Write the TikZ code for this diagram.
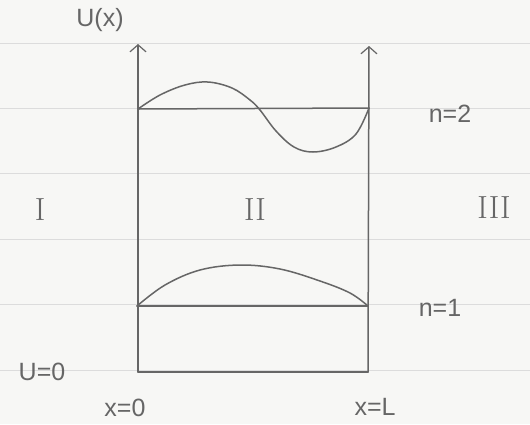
\documentclass[tikz,border=0pt]{standalone}
\usepackage{fontspec}
\setsansfont{Liberation Sans}
\usepackage{xcolor}
\definecolor{Pencil}{HTML}{666666}
\definecolor{PaperLine}{HTML}{DCDCDC}
\definecolor{Paper}{HTML}{F7F7F5}
\usetikzlibrary{arrows.meta, positioning, calc}

\tikzset{
    pencil/.style={draw=Pencil, line width=1.5pt, line cap=round, line join=round},
    axisline/.style={pencil, -{Straight Barb[length=7pt, width=16pt, line width=1.2pt]}},
    hand/.style={text=Pencil, font=\sffamily\fontsize{25}{28}\selectfont, inner sep=1pt},
    region/.style={text=Pencil, font=\rmfamily\fontsize{32}{34}\selectfont, inner sep=1pt}
}

\begin{document}
\begin{tikzpicture}[x=1pt, y=-1pt]
    % Page
    \useasboundingbox (0,0) rectangle (530,424);
    \fill[Paper] (0,0) rectangle (530,424);
    \foreach \ry in {43,108,173,239,304,370}
        \draw[PaperLine, line width=0.8pt] (0,\ry) -- (530,\ry);

    % Box corners
    \coordinate (bl) at (138,372);
    \coordinate (br) at (368,372);
    \coordinate (tl) at (138,44);
    \coordinate (tr) at (369,46);
    \coordinate (lvl2l) at (138,109);
    \coordinate (lvl2r) at (369,108);
    \coordinate (lvl1l) at (137,306);
    \coordinate (lvl1r) at (368,306);

    % Walls and floor
    \draw[axisline] (bl) -- (tl);
    \draw[axisline] (br) -- (tr);
    \draw[pencil] (bl) -- (br);

    % Energy levels
    \draw[pencil] (lvl2l) -- (lvl2r);
    \draw[pencil] (lvl1l) -- (lvl1r);

    % Wave functions
    \draw[pencil] plot[smooth, tension=0.6] coordinates {(lvl2l) (160,95) (185,85) (208,82) (232,88) (250,100) (260,110) (276,131) (294,147) (313,152) (336,147) (356,134) (lvl2r)};
    \draw[pencil] plot[smooth, tension=0.6] coordinates {(lvl1l) (165,285) (200,270) (240,265) (280,269) (320,281) (350,293) (lvl1r)};

    % Labels
    \node (ux) [hand] at (100,20) {U(x)};
    \node (ntwo) [hand] at (450,114) {n=2};
    \node (none) [hand] at (440,308) {n=1};
    \node (uzero) [hand] at (42,372) {U=0};
    \node (xzero) [hand] at (125,408) {x=0};
    \node (xl) [hand] at (375,407) {x=L};

    % Regions
    \node (rone) [region] at (40,210) {I};
    \node (rtwo) [region] at (255,210) {II};
    \node (rthree) [region] at (494,208) {III};
\end{tikzpicture}
\end{document}
